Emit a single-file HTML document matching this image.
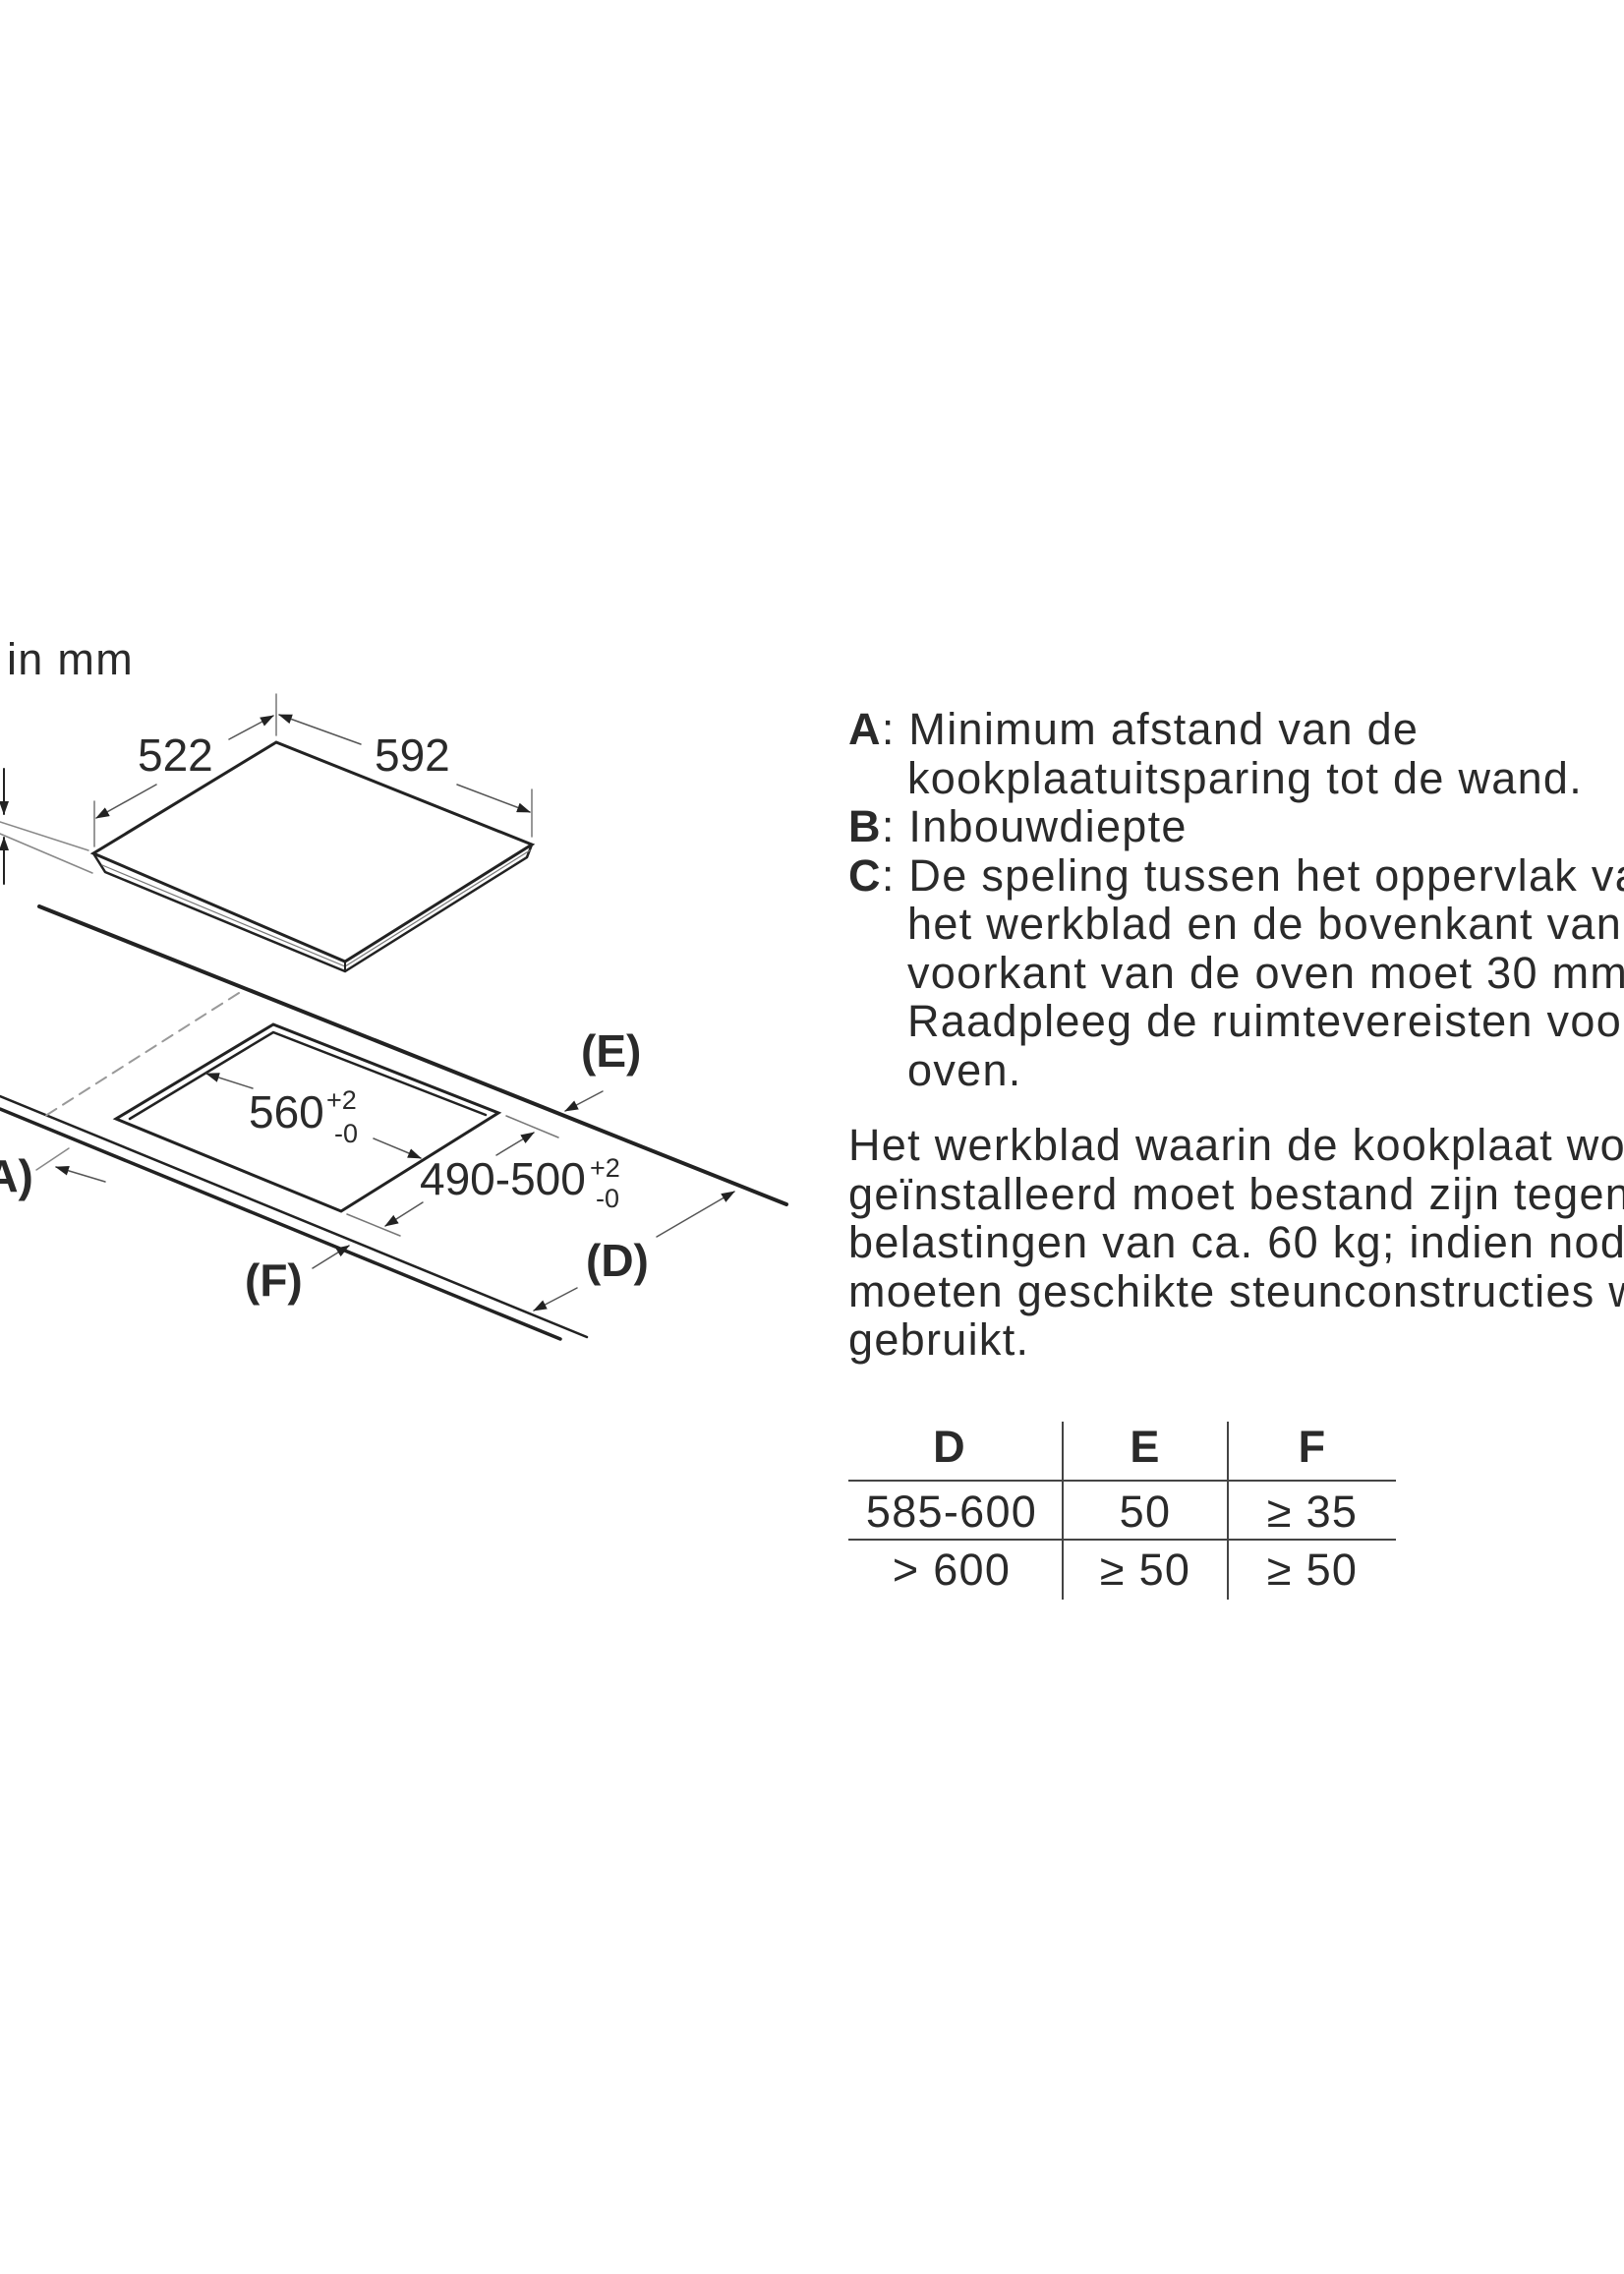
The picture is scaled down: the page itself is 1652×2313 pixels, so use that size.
<!DOCTYPE html>
<html><head><meta charset="utf-8"><style>
html,body{margin:0;padding:0;background:#fff;}
svg{display:block;}
text{font-family:"Liberation Sans",Arial,sans-serif;fill:#2a2a2a;}
.t{font-size:45px;letter-spacing:1.3px;}
.d{font-size:46px;}
.s{font-size:27px;}
.b{font-weight:bold;}
</style></head><body>
<svg width="1652" height="2313" viewBox="0 0 1652 2313" xmlns="http://www.w3.org/2000/svg">
<defs>
<marker id="ar" markerWidth="14" markerHeight="10" refX="13" refY="5" orient="auto" markerUnits="userSpaceOnUse" viewBox="0 0 14 10">
<path d="M0,0 L14,5 L0,10 z" fill="#222"/></marker>
</defs>
<rect width="1652" height="2313" fill="#fff"/>
<text class="t" x="7" y="686">in mm</text>

<g stroke="#222" fill="none" stroke-linecap="round">
<polygon points="281,755 541,859 351,978 95,868" fill="#fff" stroke-width="3"/>
<polyline points="95,868 107,887 351,988 536,872 541,859" stroke-width="2.5"/>
<line x1="104" y1="880" x2="351" y2="983" stroke-width="1.2" stroke="#777"/>
<line x1="351" y1="983" x2="539" y2="865" stroke-width="1.2" stroke="#777"/>
<line x1="351" y1="978" x2="351" y2="988" stroke-width="2"/>
<line x1="96" y1="815" x2="96" y2="861" stroke-width="1.5" stroke="#777"/>
<line x1="281" y1="706" x2="281" y2="748" stroke-width="1.5" stroke="#777"/>
<line x1="541" y1="803" x2="541" y2="851" stroke-width="1.5" stroke="#777"/>
<line x1="159" y1="798" x2="98" y2="832" stroke-width="1.5" stroke="#555" marker-end="url(#ar)"/>
<line x1="233" y1="752" x2="278" y2="728" stroke-width="1.5" stroke="#555" marker-end="url(#ar)"/>
<line x1="367" y1="757" x2="284" y2="727" stroke-width="1.5" stroke="#555" marker-end="url(#ar)"/>
<line x1="465" y1="798" x2="539" y2="826" stroke-width="1.5" stroke="#555" marker-end="url(#ar)"/>
<line x1="0" y1="836" x2="90" y2="865" stroke-width="1.5" stroke="#888"/>
<line x1="0" y1="848" x2="94" y2="888" stroke-width="1.5" stroke="#888"/>
<line x1="4" y1="782" x2="4" y2="828" stroke-width="2" marker-end="url(#ar)"/>
<line x1="4" y1="899" x2="4" y2="852" stroke-width="2" marker-end="url(#ar)"/>
<line x1="40" y1="922" x2="800" y2="1225" stroke-width="4"/>
<line x1="0" y1="1115" x2="597" y2="1360" stroke-width="2.5"/>
<line x1="0" y1="1128" x2="570" y2="1362" stroke-width="3.5"/>
<line x1="243" y1="1010" x2="43" y2="1137" stroke-width="2" stroke="#999" stroke-dasharray="12,8"/>
<polygon points="278,1042 507,1132 347,1232 118,1138" fill="#fff" stroke-width="3"/>
<polyline points="132,1138 278,1050 494,1134" stroke-width="2.5"/>
<line x1="257" y1="1107" x2="210" y2="1092" stroke-width="1.5" stroke="#555" marker-end="url(#ar)"/>
<line x1="380" y1="1158" x2="428" y2="1178" stroke-width="1.5" stroke="#555" marker-end="url(#ar)"/>
<line x1="515" y1="1135" x2="568" y2="1157" stroke-width="1.5" stroke="#777"/>
<line x1="353" y1="1235" x2="407" y2="1257" stroke-width="1.5" stroke="#777"/>
<line x1="505" y1="1175" x2="543" y2="1152" stroke-width="1.5" stroke="#555" marker-end="url(#ar)"/>
<line x1="430" y1="1223" x2="392" y2="1247" stroke-width="1.5" stroke="#555" marker-end="url(#ar)"/>
<line x1="613" y1="1110" x2="575" y2="1130" stroke-width="1.5" stroke="#555" marker-end="url(#ar)"/>
<line x1="668" y1="1258" x2="747" y2="1212" stroke-width="1.5" stroke="#555" marker-end="url(#ar)"/>
<line x1="587" y1="1310" x2="543" y2="1333" stroke-width="1.5" stroke="#555" marker-end="url(#ar)"/>
<line x1="318" y1="1290" x2="355" y2="1267" stroke-width="1.5" stroke="#555" marker-end="url(#ar)"/>
<line x1="107" y1="1202" x2="57" y2="1187" stroke-width="1.5" stroke="#555" marker-end="url(#ar)"/>
<line x1="70" y1="1168" x2="37" y2="1190" stroke-width="1.5" stroke="#888"/>
</g>

<text class="d" x="140" y="784">522</text>
<text class="d" x="381" y="784">592</text>
<text class="d" x="253" y="1147">560</text>
<text class="s" x="332" y="1128">+2</text>
<text class="s" x="340" y="1162">-0</text>
<text class="d" x="427" y="1215">490-500</text>
<text class="s" x="600" y="1197">+2</text>
<text class="s" x="606" y="1228">-0</text>
<text class="d b" x="591" y="1085">(E)</text>
<text class="d b" x="596" y="1298">(D)</text>
<text class="d b" x="249" y="1318">(F)</text>
<text class="d b" x="-30" y="1212">(A)</text>

<g class="t">
<text x="863" y="757"><tspan class="b">A</tspan>: Minimum afstand van de</text>
<text x="923" y="807">kookplaatuitsparing tot de wand.</text>
<text x="863" y="856"><tspan class="b">B</tspan>: Inbouwdiepte</text>
<text x="863" y="906"><tspan class="b">C</tspan>: De speling tussen het oppervlak van</text>
<text x="923" y="955">het werkblad en de bovenkant van de</text>
<text x="923" y="1005">voorkant van de oven moet 30 mm zijn.</text>
<text x="923" y="1054">Raadpleeg de ruimtevereisten voor de</text>
<text x="923" y="1104">oven.</text>
<text x="863" y="1180">Het werkblad waarin de kookplaat wordt</text>
<text x="863" y="1230">geïnstalleerd moet bestand zijn tegen</text>
<text x="863" y="1279">belastingen van ca. 60 kg; indien nodig</text>
<text x="863" y="1329">moeten geschikte steunconstructies worden</text>
<text x="863" y="1378">gebruikt.</text>
</g>

<g stroke="#444" stroke-width="2">
<line x1="863" y1="1506" x2="1420" y2="1506"/>
<line x1="863" y1="1566" x2="1420" y2="1566"/>
<line x1="1081" y1="1446" x2="1081" y2="1627"/>
<line x1="1249" y1="1446" x2="1249" y2="1627"/>
</g>
<g class="t" text-anchor="middle">
<text class="b" x="966" y="1487">D</text>
<text class="b" x="1165" y="1487">E</text>
<text class="b" x="1335" y="1487">F</text>
<text x="968" y="1553">585-600</text>
<text x="1165" y="1553">50</text>
<text x="1335" y="1553">≥ 35</text>
<text x="968" y="1612">&gt; 600</text>
<text x="1165" y="1612">≥ 50</text>
<text x="1335" y="1612">≥ 50</text>
</g>
</svg>
</body></html>
